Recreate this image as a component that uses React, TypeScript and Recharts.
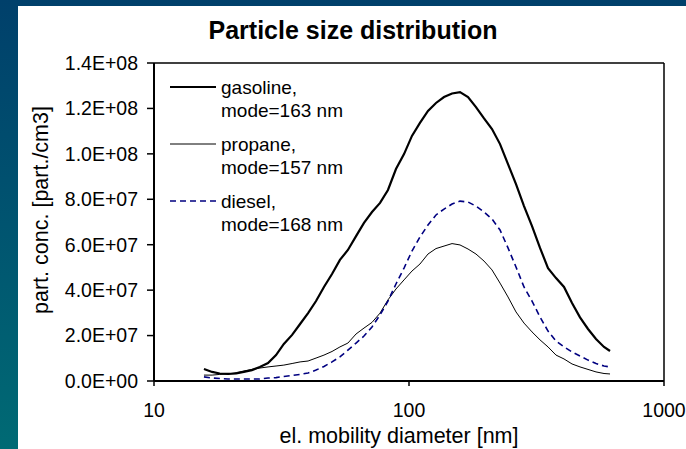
import { LineChart, Line, XAxis, YAxis, ReferenceLine, Legend } from "recharts"

const FONT = "Arial, 'Liberation Sans', Helvetica, sans-serif"

// electrical mobility diameter [nm]
const diameters = [
  15.7, 16.9, 18.1, 19.5, 21.0, 22.5, 24.2, 26.0, 28.0, 30.1, 32.3, 34.8, 37.4,
  40.2, 43.2, 46.4, 49.9, 53.6, 57.6, 62.0, 66.6, 71.6, 77.0, 82.7, 88.9, 95.6,
  102.7, 110.4, 118.7, 127.6, 137.2, 147.5, 158.5, 170.4, 183.1, 196.9, 211.6,
  227.5, 244.5, 262.8, 282.5, 303.7, 326.4, 350.9, 377.2, 405.4, 435.8, 468.4,
  503.5, 541.2, 581.8, 614.2,
]

// particle concentration [part./cm3]
const gasoline = [
  5.3e6, 4.0e6, 3.3e6, 3.1e6, 3.3e6, 4.0e6, 4.8e6, 6.2e6, 7.9e6, 11.4e6, 16.3e6,
  20.3e6, 25.1e6, 29.9e6, 35.2e6, 41.4e6, 47.1e6, 53.3e6, 57.7e6, 63.8e6, 69.6e6,
  74.4e6, 78.4e6, 84.1e6, 93.3e6, 99.9e6, 107.9e6, 113.6e6, 118.9e6, 122.4e6,
  125.0e6, 126.6e6, 127.2e6, 125.0e6, 120.6e6, 115.6e6, 110.9e6, 104.3e6, 95.5e6,
  86.7e6, 77.0e6, 68.2e6, 58.6e6, 49.7e6, 45.3e6, 41.4e6, 34.3e6, 28.0e6, 22.9e6,
  18.5e6, 15.0e6, 13.2e6,
]

const propane = [
  2.6e6, 2.6e6, 2.9e6, 3.1e6, 3.7e6, 4.4e6, 5.1e6, 5.7e6, 6.2e6, 6.6e6, 7.0e6,
  7.7e6, 8.4e6, 8.8e6, 10.1e6, 11.4e6, 13.0e6, 15.0e6, 16.7e6, 20.7e6, 23.3e6,
  25.8e6, 29.9e6, 35.7e6, 40.5e6, 44.5e6, 48.4e6, 51.5e6, 55.9e6, 58.3e6, 59.4e6,
  60.5e6, 59.9e6, 58.1e6, 55.9e6, 52.8e6, 48.9e6, 43.1e6, 37.0e6, 30.4e6, 25.5e6,
  21.6e6, 18.1e6, 15.0e6, 11.4e6, 9.7e6, 7.5e6, 6.2e6, 5.1e6, 4.0e6, 3.3e6, 3.1e6,
]

const diesel = [
  1.8e6, 1.3e6, 1.1e6, 0.9e6, 0.9e6, 0.9e6, 0.9e6, 0.9e6, 1.3e6, 1.5e6, 2.0e6,
  2.4e6, 2.9e6, 3.5e6, 4.8e6, 6.4e6, 8.4e6, 10.6e6, 13.6e6, 16.7e6, 19.8e6,
  23.8e6, 29.1e6, 35.2e6, 42.7e6, 49.7e6, 57.2e6, 63.4e6, 68.7e6, 73.1e6, 75.7e6,
  77.9e6, 79.2e6, 78.8e6, 77.0e6, 74.4e6, 71.3e6, 66.5e6, 58.6e6, 50.2e6, 41.4e6,
  35.2e6, 28.2e6, 22.0e6, 17.6e6, 15.0e6, 12.8e6, 11.0e6, 9.2e6, 7.7e6, 6.6e6,
  6.2e6,
]

const xTicks = [10, 100, 1000]
const yTicks = [0, 2e7, 4e7, 6e7, 8e7, 1e8, 1.2e8, 1.4e8]

const series = [
  { key: "gasoline", label: "gasoline,", mode: "mode=163 nm", color: "#000000", width: 2.2, dash: undefined },
  { key: "propane", label: "propane,", mode: "mode=157 nm", color: "#000000", width: 1, dash: undefined },
  { key: "diesel", label: "diesel,", mode: "mode=168 nm", color: "#000080", width: 1.6, dash: "6 4" },
]

const data = diameters.map((d, i) => ({
  d,
  gasoline: gasoline[i],
  propane: propane[i],
  diesel: diesel[i],
}))

const fmtSci = (v: number) => {
  if (v === 0) return "0.0E+00"
  const e = Math.floor(Math.log10(v) + 1e-9)
  const m = v / Math.pow(10, e)
  return `${m.toFixed(1)}E+${String(e).padStart(2, "0")}`
}

function LegendBox() {
  return (
    <svg width={200} height={170} style={{ display: "block" }}>
      {series.map((s, i) => (
        <g key={s.key}>
          <line
            x1={10}
            x2={56}
            y1={17 + 57 * i}
            y2={17 + 57 * i}
            stroke={s.color}
            strokeWidth={s.width}
            strokeDasharray={s.dash}
          />
          <text x={61} y={23.5 + 57 * i} fontSize={19} fontFamily={FONT} fill="#000">
            {s.label}
          </text>
          <text x={61} y={46.5 + 57 * i} fontSize={19} fontFamily={FONT} fill="#000">
            {s.mode}
          </text>
        </g>
      ))}
    </svg>
  )
}

function XLabel(props: any) {
  const vb = props.viewBox || { x: 154, y: 381, width: 510, height: 68 }
  return (
    <text
      x={vb.x + vb.width / 2 - 10}
      y={vb.y + 62}
      textAnchor="middle"
      fontSize={21.5}
      fontFamily={FONT}
      fill="#000"
    >
      el. mobility diameter [nm]
    </text>
  )
}

function YLabel(props: any) {
  const vb = props.viewBox || { x: 0, y: 63, width: 154, height: 318 }
  const cx = vb.x + 41
  const cy = vb.y + vb.height / 2 - 12
  return (
    <text
      x={cx}
      y={cy}
      transform={`rotate(-90 ${cx} ${cy})`}
      textAnchor="middle"
      dominantBaseline="central"
      fontSize={21.5}
      fontFamily={FONT}
      fill="#000"
    >
      part. conc. [part./cm3]
    </text>
  )
}

export default function App() {
  return (
    <div
      style={{
        position: "absolute",
        left: 0,
        top: 0,
        width: 686,
        height: 449,
        overflow: "hidden",
        background: "linear-gradient(180deg, #00406b 0%, #005470 50%, #006a74 100%)",
      }}
    >
      <div style={{ position: "absolute", left: 18, top: 6, right: 0, bottom: 0, background: "#ffffff" }} />
      <svg width={686} height={60} style={{ position: "absolute", left: 0, top: 0 }}>
        <text x={353} y={39} textAnchor="middle" fontSize={25} fontWeight="bold" fontFamily={FONT} fill="#000">
          Particle size distribution
        </text>
      </svg>
      <div style={{ position: "absolute", left: 0, top: 0 }}>
        <LineChart width={686} height={449} data={data} margin={{ top: 63, right: 22, bottom: 0, left: 0 }}>
          <XAxis
            dataKey="d"
            type="number"
            scale="log"
            domain={[10, 1000]}
            ticks={xTicks}
            interval={0}
            allowDataOverflow
            height={68}
            tickSize={5}
            tickMargin={17}
            tick={{ fill: "#000", fontSize: 19.5, fontFamily: FONT }}
            axisLine={{ stroke: "#000", strokeWidth: 2 }}
            tickLine={{ stroke: "#000", strokeWidth: 1.5 }}
            label={{ content: (p: any) => <XLabel {...p} /> }}
          />
          <YAxis
            type="number"
            domain={[0, 1.4e8]}
            ticks={yTicks}
            interval={0}
            allowDataOverflow
            width={154}
            tickSize={7}
            tickMargin={9}
            tickFormatter={fmtSci}
            tick={{ fill: "#000", fontSize: 19.5, fontFamily: FONT }}
            axisLine={{ stroke: "#000", strokeWidth: 2 }}
            tickLine={{ stroke: "#000", strokeWidth: 1.5 }}
            label={{ content: (p: any) => <YLabel {...p} /> }}
          />
          <ReferenceLine y={1.4e8} stroke="#000" strokeWidth={1.5} />
          <ReferenceLine x={1000} stroke="#000" strokeWidth={1.5} />
          <Legend
            layout="horizontal"
            verticalAlign="middle"
            align="center"
            wrapperStyle={{ left: 160, top: 70, width: 200, height: 170 }}
            content={() => <LegendBox />}
          />
          {series.map((s) => (
            <Line
              key={s.key}
              dataKey={s.key}
              type="linear"
              stroke={s.color}
              strokeWidth={s.width}
              strokeDasharray={s.dash}
              dot={false}
              activeDot={false}
              isAnimationActive={false}
            />
          ))}
        </LineChart>
      </div>
    </div>
  )
}
